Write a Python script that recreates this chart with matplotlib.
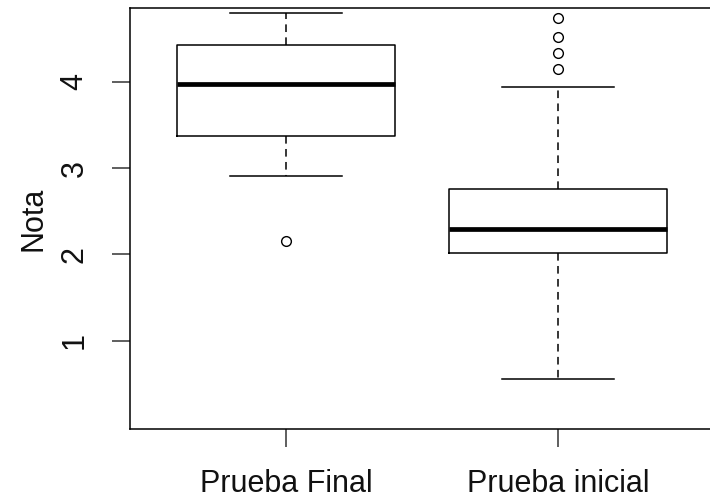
import matplotlib
matplotlib.use("Agg")
import matplotlib.pyplot as plt

plt.rcParams["font.family"] = ["Liberation Sans", "DejaVu Sans"]

# data (boxplot summary statistics)
groups = ["Prueba Final", "Prueba inicial"]
medians = [3.97, 2.29]
q1s = [3.375, 2.012]
q3s = [4.425, 2.753]
whisker_low = [2.91, 0.55]
whisker_high = [4.80, 3.94]
outliers = [[2.15], [4.15, 4.33, 4.52, 4.74]]

stats = []
for i in range(len(groups)):
    stats.append({
        "label": groups[i],
        "med": medians[i],
        "q1": q1s[i],
        "q3": q3s[i],
        "whislo": whisker_low[i],
        "whishi": whisker_high[i],
        "fliers": outliers[i],
    })

fig = plt.figure(figsize=(7.10, 4.96), dpi=100)
ax = fig.add_axes([130 / 710, 67 / 496, 582 / 710, 421 / 496])

lw = 1.1
ax.bxp(stats, positions=[1, 2], widths=0.8,
       boxprops=dict(color="black", linewidth=lw),
       medianprops=dict(color="black", linewidth=3.4, solid_capstyle="butt"),
       whiskerprops=dict(color="black", linewidth=lw, dashes=(5, 3.5)),
       capprops=dict(color="black", linewidth=lw),
       flierprops=dict(marker="o", markerfacecolor="none", markeredgecolor="black",
                       markersize=7, markeredgewidth=1.0),
       capwidths=0.41)

ax.set_xlim(0.4265, 2.566)
ax.set_ylim(-0.024, 4.854)
ax.set_yticks([1, 2, 3, 4])
ax.set_yticklabels(["1", "2", "3", "4"], rotation=90, va="center")
ax.set_xticks([1, 2])
ax.set_xticklabels(groups)
ax.tick_params(axis="both", labelsize=22, length=13, width=lw, color="#333333",
               labelcolor="#111111")
ax.tick_params(axis="y", pad=16)
ax.tick_params(axis="x", pad=16)
ax.set_ylabel("Nota", fontsize=22, labelpad=8, color="#111111")

for s in ax.spines.values():
    s.set_linewidth(lw)

plt.savefig("out.png", dpi=100)
